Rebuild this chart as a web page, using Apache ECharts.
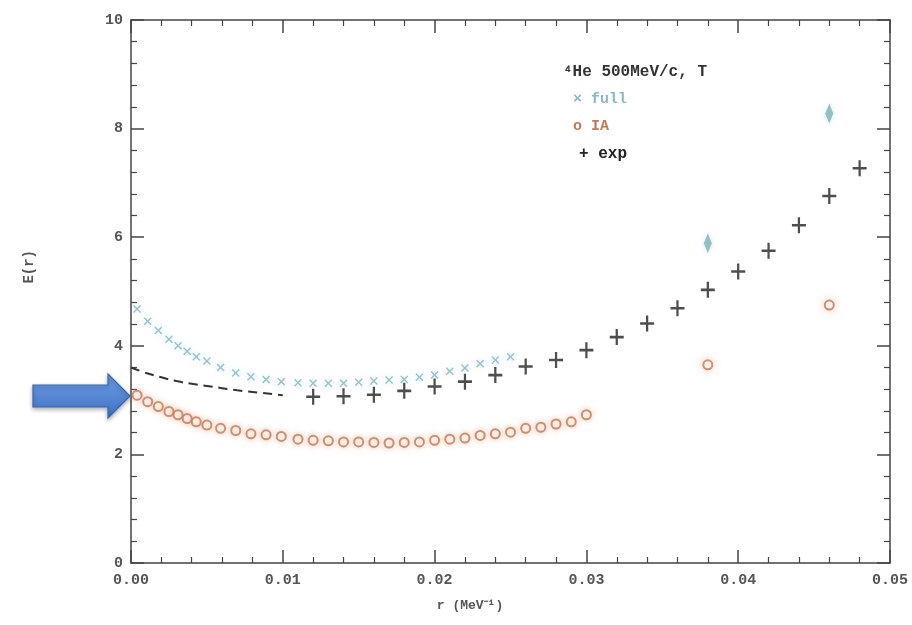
<!DOCTYPE html>
<html>
<head>
<meta charset="utf-8">
<script src="https://cdn.jsdelivr.net/npm/echarts@6/dist/echarts.min.js"></script>
<style>
  html, body { margin: 0; padding: 0; background: #fff; }
  #chart { width: 912px; height: 625px; }
</style>
</head>
<body>
<div id="chart"></div>
<script>
// values
const xTicks = [0, 0.01, 0.02, 0.03, 0.04, 0.05]
const yTicks = [0, 2, 4, 6, 8, 10]

const fullX = [0.0004, 0.0011, 0.0018, 0.0025, 0.0031, 0.0037, 0.0043, 0.0050, 0.0059, 0.0069, 0.0079, 0.0089, 0.0099,
  0.011, 0.012, 0.013, 0.014, 0.015, 0.016, 0.017, 0.018, 0.019, 0.020, 0.021, 0.022, 0.023, 0.024, 0.025]
const fullY = [4.68, 4.45, 4.28, 4.12, 4.00, 3.90, 3.80, 3.72, 3.60, 3.50, 3.43, 3.38, 3.34,
  3.32, 3.31, 3.31, 3.31, 3.33, 3.35, 3.37, 3.38, 3.42, 3.46, 3.53, 3.59, 3.67, 3.74, 3.80]
const fullFarX = [0.038, 0.046]
const fullFarY = [5.89, 8.28]

const iaX = [0.0004, 0.0011, 0.0018, 0.0025, 0.0031, 0.0037, 0.0043, 0.0050, 0.0059, 0.0069, 0.0079, 0.0089, 0.0099,
  0.011, 0.012, 0.013, 0.014, 0.015, 0.016, 0.017, 0.018, 0.019, 0.020, 0.021, 0.022, 0.023, 0.024, 0.025,
  0.026, 0.027, 0.028, 0.029, 0.030]
const iaY = [3.09, 2.97, 2.88, 2.79, 2.73, 2.66, 2.60, 2.54, 2.48, 2.44, 2.38, 2.36, 2.33,
  2.28, 2.26, 2.25, 2.23, 2.23, 2.22, 2.21, 2.22, 2.23, 2.26, 2.28, 2.30, 2.35, 2.38, 2.41,
  2.48, 2.50, 2.56, 2.60, 2.73]
const iaFarX = [0.038, 0.046]
const iaFarY = [3.65, 4.75]

const expX = [0.012, 0.014, 0.016, 0.018, 0.020, 0.022, 0.024, 0.026, 0.028, 0.030, 0.032, 0.034, 0.036,
  0.038, 0.040, 0.042, 0.044, 0.046, 0.048]
const expY = [3.06, 3.07, 3.10, 3.17, 3.25, 3.34, 3.46, 3.62, 3.74, 3.92, 4.16, 4.41, 4.69,
  5.03, 5.37, 5.75, 6.22, 6.76, 7.27]

const dashX = [0, 0.001, 0.002, 0.003, 0.004, 0.005, 0.006, 0.007, 0.008, 0.009, 0.010]
const dashY = [3.60, 3.50, 3.42, 3.35, 3.30, 3.26, 3.22, 3.18, 3.15, 3.12, 3.09]

const zip = (a, b) => a.map((v, i) => [v, b[i]])

const cyan = '#86b9c9'
const orange = '#c07a55'
const ink = '#222'
const font = 'Liberation Mono'

const xMark = 'path://M-1,-0.75L-0.75,-1L0,-0.25L0.75,-1L1,-0.75L0.25,0L1,0.75L0.75,1L0,0.25L-0.75,1L-1,0.75L-0.25,0Z'
const plusMark = 'path://M-1,-0.16L1,-0.16L1,0.16L-1,0.16Z M-0.16,-1L0.16,-1L0.16,1L-0.16,1Z'
const barMark = 'path://M0,-1L0.5,0L0,1L-0.5,0Z'

var myChart = echarts.init(document.getElementById('chart'))

function axisCommon(show) {
  return {
    axisLine: { onZero: false, lineStyle: { color: '#444', width: 1.5 } },
    axisTick: { inside: true, length: 13, lineStyle: { color: '#444', width: 1.5 } },
    minorTick: { show: true, splitNumber: 5, length: 6, lineStyle: { color: '#444', width: 1.2 } },
    splitLine: { show: false },
    axisLabel: { show: show, color: '#555', fontFamily: font, fontSize: 15, fontWeight: 'bold' }
  }
}

var option = {
  backgroundColor: '#fff',
  animation: false,
  grid: { left: 131, right: 22, top: 20, bottom: 62 },
  xAxis: [
    Object.assign({
      type: 'value', position: 'bottom', min: xTicks[0], max: xTicks[xTicks.length - 1], interval: 0.01
    }, axisCommon(true), { axisLabel: { color: '#555', fontFamily: font, fontSize: 15, fontWeight: 'bold', margin: 10, formatter: v => v.toFixed(2) } }),
    Object.assign({ type: 'value', position: 'top', min: 0, max: 0.05, interval: 0.01 }, axisCommon(false))
  ],
  yAxis: [
    Object.assign({ type: 'value', position: 'left', min: yTicks[0], max: yTicks[yTicks.length - 1], interval: 2 }, axisCommon(true)),
    Object.assign({ type: 'value', position: 'right', min: 0, max: 10, interval: 2 }, axisCommon(false))
  ],
  series: [
    {
      name: 'theory', type: 'line', data: zip(dashX, dashY), symbol: 'none', smooth: true,
      lineStyle: { color: '#333', width: 2, type: [9, 6] }
    },
    {
      name: 'full', type: 'scatter', data: zip(fullX, fullY), symbol: xMark, symbolSize: 8,
      itemStyle: { color: cyan, opacity: 0.85, shadowBlur: 6, shadowColor: 'rgba(140,200,215,0.5)' }
    },
    {
      name: 'full far', type: 'scatter', data: zip(fullFarX, fullFarY), symbol: barMark, symbolSize: [8, 20],
      itemStyle: { color: '#7fb2b8', opacity: 0.8, shadowBlur: 6, shadowColor: 'rgba(140,200,215,0.5)' }
    },
    {
      name: 'IA', type: 'scatter', data: zip(iaX, iaY), symbol: 'circle', symbolSize: 9,
      itemStyle: { color: '#fff', borderColor: orange, borderWidth: 2, shadowBlur: 6, shadowColor: 'rgba(230,150,110,0.55)' }
    },
    {
      name: 'IA far', type: 'scatter', data: zip(iaFarX, iaFarY), symbol: 'circle', symbolSize: [9, 9],
      itemStyle: { color: '#fff', borderColor: orange, borderWidth: 2, shadowBlur: 8, shadowColor: 'rgba(230,150,110,0.55)' }
    },
    {
      name: 'exp', type: 'scatter', data: zip(expX, expY), symbol: plusMark, symbolSize: [14, 16],
      itemStyle: { color: ink }
    }
  ],
  graphic: [
    { type: 'text', left: 22, top: 250, rotation: Math.PI / 2, originX: 0, originY: 0,
      style: { text: 'E(r)', fill: '#555', font: 'bold 14px ' + font, align: 'center', verticalAlign: 'middle' } },
    { type: 'text', x: 470, y: 606,
      style: { text: 'r (MeV⁻¹)', fill: '#555', font: 'bold 13px ' + font, align: 'center', verticalAlign: 'middle' } },
    { type: 'text', x: 563, y: 64,
      style: { text: '⁴He 500MeV/c, T', fill: '#333', font: 'bold 16px ' + font } },
    { type: 'text', x: 573, y: 92,
      style: { text: '× full', fill: cyan, font: 'bold 15px ' + font } },
    { type: 'text', x: 573, y: 119,
      style: { text: 'o IA', fill: orange, font: 'bold 15px ' + font } },
    { type: 'text', x: 579, y: 146,
      style: { text: '+ exp', fill: '#222', font: 'bold 16px ' + font } },
    // blue annotation arrow
    { type: 'polygon', z: 100,
      shape: { points: [[33, 385], [108, 385], [108, 374], [130, 396], [108, 418], [108, 407], [33, 407]] },
      style: {
        fill: new echarts.graphic.LinearGradient(0, 0, 0, 1, [
          { offset: 0, color: '#6d9de3' }, { offset: 1, color: '#3f72c4' }
        ]),
        stroke: '#3b68ad', lineWidth: 1.2,
        shadowBlur: 4, shadowOffsetY: 2, shadowColor: 'rgba(0,0,0,0.3)'
      } }
  ]
}

myChart.setOption(option)
</script>
</body>
</html>
